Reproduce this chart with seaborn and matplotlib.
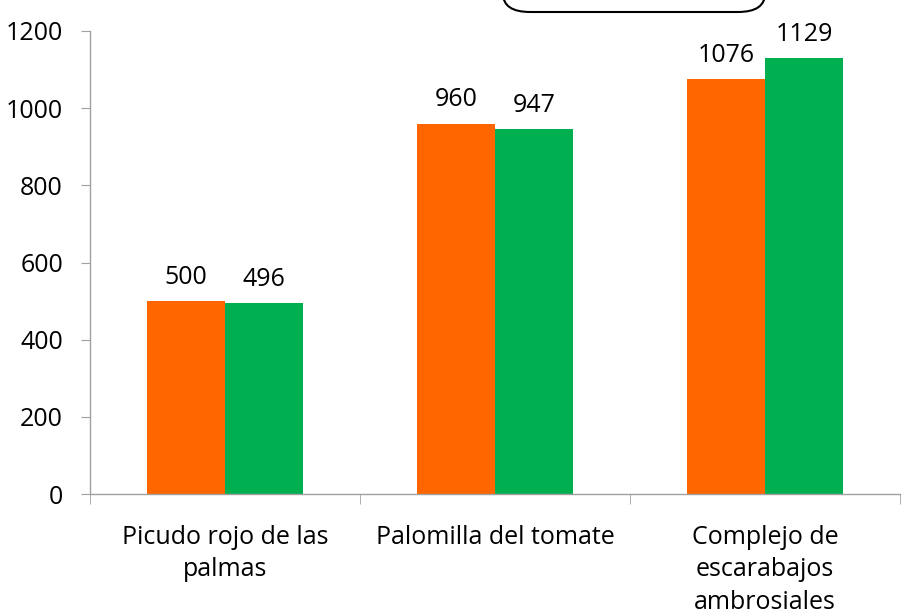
import matplotlib
matplotlib.use("Agg")
import matplotlib.pyplot as plt
import seaborn as sns
import pandas as pd
from matplotlib.patches import FancyBboxPatch

categories = ["Picudo rojo de las\npalmas", "Palomilla del tomate", "Complejo de\nescarabajos\nambrosiales"]
series_names = ["Serie 1", "Serie 2"]
values_1 = [500, 960, 1076]
values_2 = [496, 947, 1129]
colors = ["#FF6600", "#00B050"]

df = pd.DataFrame({
    "cat": categories * 2,
    "serie": [series_names[0]] * 3 + [series_names[1]] * 3,
    "val": values_1 + values_2,
})

sns.set_style("white")
plt.rcParams["font.family"] = ["Open Sans", "DejaVu Sans"]
plt.rcParams["text.color"] = "black"

FS = 18

fig = plt.figure(figsize=(9.06, 6.16), dpi=100)
ax = fig.add_axes([90/906, 1-494/616, 810/906, (494-31)/616])
sns.barplot(data=df, x="cat", y="val", hue="serie", palette=colors,
            width=0.578, saturation=1, ax=ax, legend=False, edgecolor="none")

for cont in ax.containers:
    ax.bar_label(cont, labels=[f"{int(v)}" for v in cont.datavalues],
                 padding=8, fontsize=FS, color="black")

ax.set_xlim(-0.5, 2.5)
ax.set_ylim(0, 1200)
ax.set_yticks(range(0, 1201, 200))
ax.set_xlabel("")
ax.set_ylabel("")
for s in ["top", "right"]:
    ax.spines[s].set_visible(False)
for s in ["left", "bottom"]:
    ax.spines[s].set_color("#A0A0A0")
    ax.spines[s].set_linewidth(1)
ax.tick_params(axis="y", direction="out", length=6.5, color="#A0A0A0",
               labelsize=FS, pad=13, left=True, labelcolor="black")
ax.tick_params(axis="x", which="major", length=0, labelsize=FS, pad=22, labelcolor="black")
for lbl in ax.get_xticklabels():
    lbl.set_linespacing(1.4)
ax.set_xticks([-0.5, 0.5, 1.5, 2.5], minor=True)
ax.tick_params(axis="x", which="minor", direction="out", length=7, color="#A0A0A0", bottom=True)

box = FancyBboxPatch((503/906, 1 - 12/616), 262/906, 0.06,
                     boxstyle="round,pad=0,rounding_size=0.03",
                     transform=fig.transFigure, facecolor="white",
                     edgecolor="black", linewidth=1.5, clip_on=False)
fig.patches.append(box)

fig.savefig("out.png", dpi=100)
